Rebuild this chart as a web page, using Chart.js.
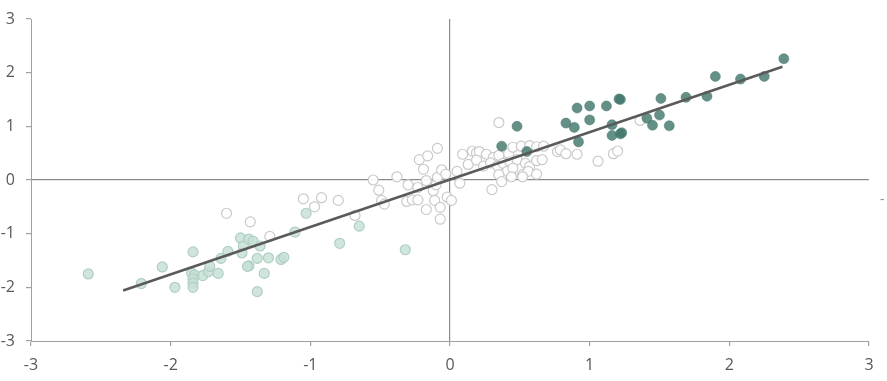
<!DOCTYPE html>
<html>
<head>
<meta charset="utf-8">
<script src="https://cdn.jsdelivr.net/npm/chart.js@4"></script>
<style>
  html, body { margin: 0; padding: 0; background: #fff; }
  #wrap { width: 887px; height: 381px; position: relative; }
</style>
</head>
<body>
<div id="wrap"><canvas id="chart"></canvas></div>
<script>
// --- Daten: drei Gruppen + Regressionslinie ---
const tickValues = [-3, -2, -1, 0, 1, 2, 3];

const lowX = [-2.59, -2.21, -2.06, -1.97, -1.84, -1.85, -1.83, -1.84, -1.84, -1.84, -1.77, -1.73, -1.72, -1.66, -1.64,
  -1.59, -1.50, -1.48, -1.44, -1.41, -1.49, -1.44, -1.45, -1.38, -1.36, -1.33, -1.38, -1.30, -1.21, -1.19,
  -1.11, -1.03, -0.65, -0.79, -0.32];
const lowY = [-1.75, -1.93, -1.62, -2.00, -1.34, -1.73, -1.77, -1.84, -1.92, -2.00, -1.78, -1.71, -1.61, -1.74, -1.46,
  -1.33, -1.08, -1.23, -1.10, -1.14, -1.36, -1.60, -1.61, -1.46, -1.23, -1.74, -2.08, -1.45, -1.48, -1.44,
  -0.97, -0.62, -0.86, -1.18, -1.30];

const midX = [-1.60, -1.43, -1.29, -1.05, -0.97, -0.92, -0.80, -0.68, -0.55, -0.51, -0.49, -0.47, -0.38, -0.30, -0.31,
  -0.27, -0.23, -0.23, -0.22, -0.19, -0.16, -0.09, -0.17, -0.17, -0.11, -0.12, -0.10, -0.09, -0.06, -0.03,
  -0.07, -0.07, -0.02, 0.01, 0.05, 0.07, 0.09, 0.13, 0.16, 0.19, 0.35, 0.30, 0.21, 0.26, 0.31,
  0.35, 0.42, 0.45, 0.51, 0.57, 0.62, 0.67, 0.19, 0.24, 0.29, 0.34, 0.38, 0.43, 0.48, 0.54,
  0.57, 0.62, 0.66, 0.41, 0.35, 0.45, 0.52, 0.56, 0.62, 0.37, 0.44, 0.52, 0.77, 0.79, 0.83,
  0.91, 1.06, 1.17, 1.20, 1.36];
const midY = [-0.62, -0.78, -1.05, -0.35, -0.50, -0.33, -0.38, -0.66, 0.00, -0.19, -0.38, -0.45, 0.06, -0.09, -0.40,
  -0.37, -0.37, -0.14, 0.38, 0.20, 0.45, 0.59, -0.01, -0.55, -0.38, -0.20, -0.09, 0.05, 0.19, 0.11,
  -0.51, -0.73, -0.32, -0.38, 0.16, -0.06, 0.48, 0.29, 0.54, 0.51, 1.07, -0.18, 0.53, 0.48, 0.42,
  0.46, 0.49, 0.61, 0.63, 0.64, 0.62, 0.63, 0.37, 0.26, 0.32, 0.26, 0.31, 0.34, 0.38, 0.31,
  0.25, 0.36, 0.38, 0.16, 0.10, 0.22, 0.10, 0.16, 0.11, -0.03, 0.06, 0.06, 0.53, 0.56, 0.49,
  0.48, 0.35, 0.49, 0.54, 1.11];

const highX = [2.39, 1.90, 2.08, 2.25, 1.84, 1.69, 1.51, 1.50, 1.57, 1.45, 1.41, 1.21, 1.22, 1.12, 1.00,
  0.91, 1.00, 0.83, 0.89, 0.92, 1.16, 1.16, 1.23, 1.22, 0.48, 0.37, 0.55];
const highY = [2.26, 1.93, 1.88, 1.93, 1.56, 1.54, 1.52, 1.21, 1.01, 1.02, 1.15, 1.51, 1.50, 1.38, 1.38,
  1.34, 1.12, 1.06, 0.98, 0.71, 1.03, 0.83, 0.88, 0.86, 1.00, 0.63, 0.53];

const fitX = [-2.34, 2.38];
const fitY = [-2.06, 2.11];

// --- Hilfsfunktion: x/y Arrays zu Punkten ---
function toPoints(xs, ys) {
    const pts = [];
    for (let i = 0; i < xs.length; i++) {
        pts.push({ x: xs[i], y: ys[i] });
    }
    return pts;
}

// kleiner Strich am rechten Rand (wie im Original)
const strayMark = {
    id: 'strayMark',
    afterDraw(chart) {
        const ctx = chart.ctx;
        ctx.save();
        ctx.fillStyle = '#8c8c8c';
        ctx.font = '14px "Open Sans"';
        ctx.textBaseline = 'middle';
        ctx.fillText('-', 880, 200);
        ctx.restore();
    }
};

const axisFont = { family: '"Open Sans", "DejaVu Sans", sans-serif', size: 16, lineHeight: 1 };

new Chart(document.getElementById('chart'), {
    type: 'scatter',
    data: {
        datasets: [
            {
                type: 'line',
                data: toPoints(fitX, fitY),
                borderColor: '#5a5a5a',
                borderWidth: 2.5,
                pointRadius: 0,
                order: 0
            },
            {
                data: toPoints(highX, highY),
                backgroundColor: 'rgba(66, 120, 110, 0.82)',
                borderColor: 'rgba(66, 120, 110, 0.5)',
                borderWidth: 1,
                pointRadius: 5,
                order: 1
            },
            {
                data: toPoints(midX, midY),
                backgroundColor: 'rgba(255, 255, 255, 0.9)',
                borderColor: '#cacaca',
                borderWidth: 1.2,
                pointRadius: 5,
                order: 2
            },
            {
                data: toPoints(lowX, lowY),
                backgroundColor: 'rgba(200, 224, 214, 0.85)',
                borderColor: '#b0cfc3',
                borderWidth: 1.2,
                pointRadius: 5,
                order: 3
            }
        ]
    },
    options: {
        responsive: true,
        maintainAspectRatio: false,
        animation: false,
        layout: { padding: { top: 16, right: 18, left: 0, bottom: 0 } },
        plugins: { legend: { display: false }, tooltip: { enabled: false } },
        scales: {
            x: {
                type: 'linear',
                min: -3, max: 3,
                afterBuildTicks: (scale) => { scale.ticks = tickValues.map(v => ({ value: v })); },
                afterFit: (scale) => { scale.height = 40; },
                border: { display: true, color: '#a0a0a0', width: 1 },
                grid: {
                    color: (ctx) => ctx.tick && ctx.tick.value === 0 ? '#8a8a8a' : 'rgba(0,0,0,0)',
                    tickColor: '#a0a0a0',
                    tickLength: 5,
                    lineWidth: 1.2
                },
                ticks: { color: '#595959', font: axisFont, padding: 11 }
            },
            y: {
                type: 'linear',
                min: -3, max: 3,
                afterBuildTicks: (scale) => { scale.ticks = tickValues.map(v => ({ value: v })); },
                afterFit: (scale) => { scale.width = 31; },
                border: { display: true, color: '#a0a0a0', width: 1 },
                grid: {
                    color: (ctx) => ctx.tick && ctx.tick.value === 0 ? '#8a8a8a' : 'rgba(0,0,0,0)',
                    tickColor: '#a0a0a0',
                    tickLength: 5,
                    lineWidth: 1.2
                },
                ticks: { color: '#595959', font: axisFont, padding: 11 }
            }
        }
    },
    plugins: [strayMark]
});
</script>
</body>
</html>
